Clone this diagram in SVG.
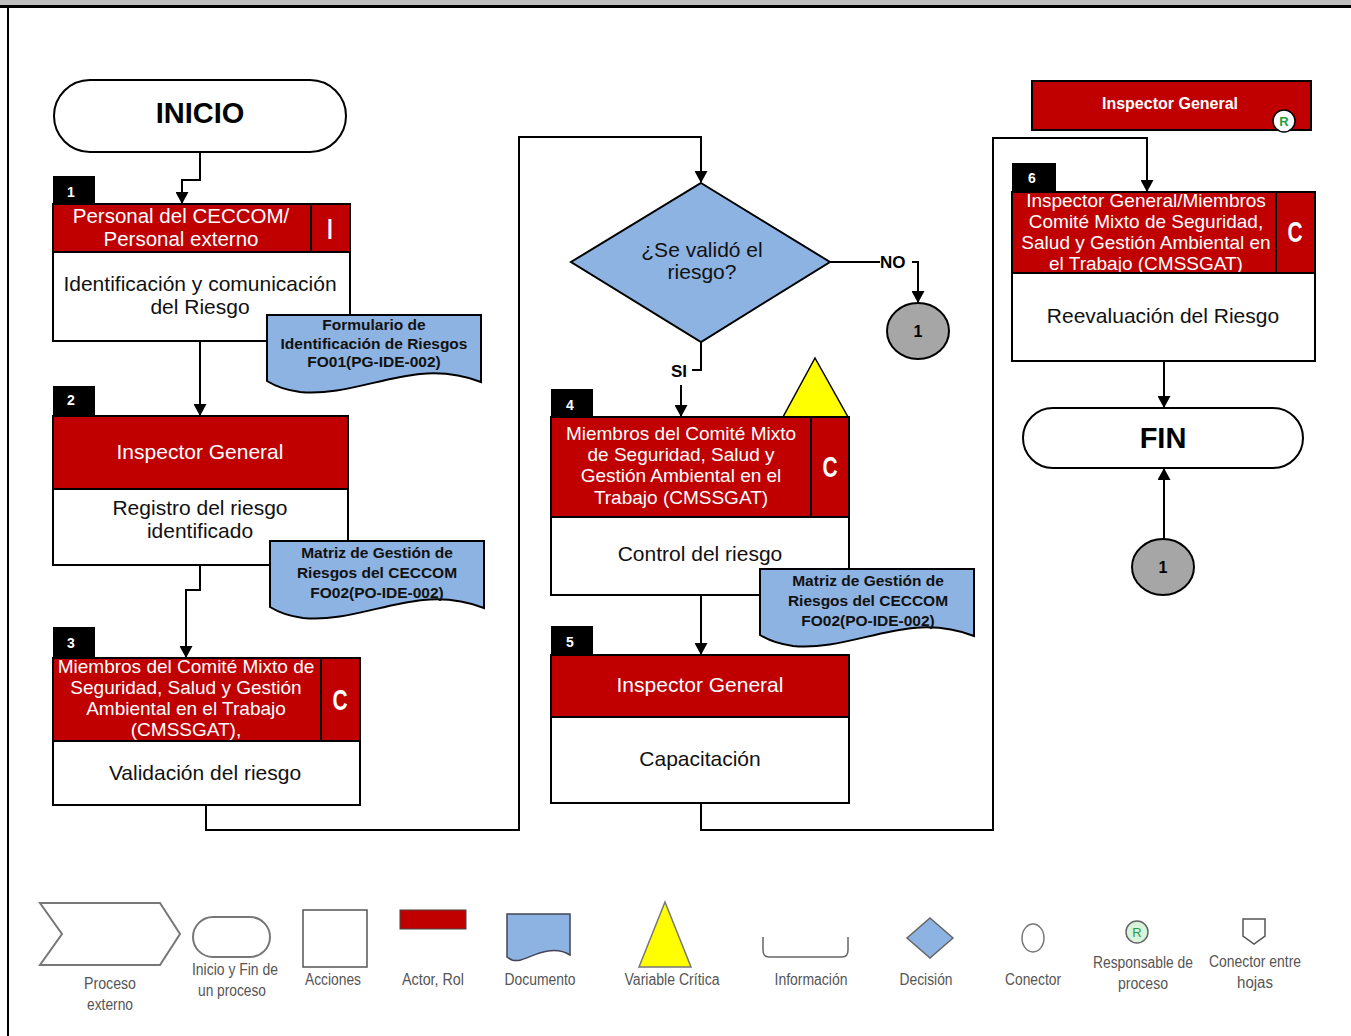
<svg xmlns="http://www.w3.org/2000/svg" width="1351" height="1036" viewBox="0 0 1351 1036">
  <defs>
    <marker id="arrow" markerWidth="13" markerHeight="13" refX="11" refY="6.5" orient="auto" markerUnits="userSpaceOnUse">
      <path d="M0,0 L12,6.5 L0,13 Z" fill="#000"/>
    </marker>
    <path id="docShape" d="M0,0 H214 V67 C193,59 173,57 153,59 C113,63 73,81 33,77 C18,75 8,71 0,66 Z"/>
  </defs>
  <style>
    .hdr { fill: #C00000; stroke: #000; stroke-width: 2; }
    .body { fill: #fff; stroke: #000; stroke-width: 2; }
    .tab { fill: #000; }
    .tabtxt { font-family: "Liberation Sans", Arial, sans-serif; font-size: 14px; font-weight: bold; fill: #fff; }
    .htxt { font-family: "Liberation Sans", Arial, sans-serif; fill: #fff; text-anchor: middle; }
    .btxt { font-family: "Liberation Sans", Arial, sans-serif; font-size: 21px; fill: #111; text-anchor: middle; }
    .doc { fill: #8DB3E2; stroke: #000; stroke-width: 2; }
    .dtxt { font-family: "Liberation Sans", Arial, sans-serif; font-size: 15.5px; font-weight: bold; fill: #111; text-anchor: middle; }
    .term { fill: #fff; stroke: #000; stroke-width: 2; }
    .ttxt { font-family: "Liberation Sans", Arial, sans-serif; font-size: 29px; font-weight: bold; fill: #000; text-anchor: middle; }
    .role { font-family: "Liberation Sans", Arial, sans-serif; font-weight: bold; fill: #fff; text-anchor: middle; }
    .conn { fill: none; stroke: #000; stroke-width: 2; }
    .lbl { font-family: "Liberation Sans", Arial, sans-serif; font-size: 17px; font-weight: bold; fill: #000; }
    .circ { fill: #A6A6A6; stroke: #000; stroke-width: 2; }
    .ctxt { font-family: "Liberation Sans", Arial, sans-serif; font-size: 16px; font-weight: bold; fill: #000; text-anchor: middle; }
    .leg { font-family: "Liberation Sans", Arial, sans-serif; font-size: 16px; fill: #555; text-anchor: middle; }
  </style>

  <rect x="0" y="0" width="1351" height="1036" fill="#fff"/>

  <!-- page frame -->
  <g id="frame">
    <rect x="0" y="0" width="1351" height="5" fill="#BFBFBF"/>
    <rect x="0" y="5" width="1351" height="3" fill="#000"/>
    <rect x="7" y="8" width="2" height="1028" fill="#000"/>
  </g>

  <!-- connectors -->
  <g id="connectors">
    <polyline class="conn" points="200,152 200,180 182,180 182,203" marker-end="url(#arrow)"/>
    <polyline class="conn" points="200,341 200,415" marker-end="url(#arrow)"/>
    <polyline class="conn" points="200,565 200,590 186,590 186,657" marker-end="url(#arrow)"/>
    <polyline class="conn" points="206,805 206,830 519,830 519,137 701,137 701,182" marker-end="url(#arrow)"/>
    <polyline class="conn" points="830,262 880,262"/>
    <polyline class="conn" points="912,262 918,262 918,302" marker-end="url(#arrow)"/>
    <polyline class="conn" points="701,342 701,370 692,370"/>
    <polyline class="conn" points="681,385 681,416" marker-end="url(#arrow)"/>
    <polyline class="conn" points="701,595 701,654" marker-end="url(#arrow)"/>
    <polyline class="conn" points="701,803 701,830 993,830 993,138 1147,138 1147,191" marker-end="url(#arrow)"/>
    <polyline class="conn" points="1164,361 1164,407" marker-end="url(#arrow)"/>
    <polyline class="conn" points="1164,539 1164,469" marker-end="url(#arrow)"/>
    <text class="lbl" x="880" y="268">NO</text>
    <text class="lbl" x="671" y="377">SI</text>
  </g>

  <!-- start -->
  <g id="inicio">
    <rect class="term" x="54" y="80" width="292" height="72" rx="36" ry="36"/>
    <text class="ttxt" font-size="30" x="200" y="123">INICIO</text>
  </g>

  <!-- step 1 -->
  <g id="step1">
    <rect class="tab" x="53" y="176" width="42" height="29"/>
    <text class="tabtxt" x="67" y="197">1</text>
    <rect class="hdr" x="53" y="204" width="297" height="48"/>
    <line x1="311" y1="204" x2="311" y2="252" stroke="#000" stroke-width="2"/>
    <text class="htxt" font-size="20.5" x="181" y="223">Personal del CECCOM/</text>
    <text class="htxt" font-size="20.5" x="181" y="246">Personal externo</text>
    <text class="htxt" font-size="30" x="330" y="239">I</text>
    <rect class="body" x="53" y="252" width="297" height="89"/>
    <text class="btxt" x="200" y="291">Identificación y comunicación</text>
    <text class="btxt" x="200" y="314">del Riesgo</text>
  </g>
  <g id="doc1">
    <use href="#docShape" class="doc" x="267" y="315"/>
    <text class="dtxt" x="374" y="330">Formulario de</text>
    <text class="dtxt" x="374" y="349">Identificación de Riesgos</text>
    <text class="dtxt" x="374" y="367">FO01(PG-IDE-002)</text>
  </g>

  <!-- step 2 -->
  <g id="step2">
    <rect class="tab" x="53" y="386" width="42" height="31"/>
    <text class="tabtxt" x="67" y="405">2</text>
    <rect class="hdr" x="53" y="416" width="295" height="73"/>
    <text class="htxt" font-size="21" x="200" y="459">Inspector General</text>
    <rect class="body" x="53" y="489" width="295" height="76"/>
    <text class="btxt" x="200" y="515">Registro del riesgo</text>
    <text class="btxt" x="200" y="538">identificado</text>
  </g>
  <g id="doc2">
    <use href="#docShape" class="doc" x="270" y="541"/>
    <text class="dtxt" x="377" y="558">Matriz de Gestión de</text>
    <text class="dtxt" x="377" y="578">Riesgos del CECCOM</text>
    <text class="dtxt" x="377" y="598">FO02(PO-IDE-002)</text>
  </g>

  <!-- step 3 -->
  <g id="step3">
    <rect class="tab" x="53" y="627" width="42" height="32"/>
    <text class="tabtxt" x="67" y="648">3</text>
    <rect class="hdr" x="53" y="658" width="307" height="83"/>
    <line x1="321" y1="658" x2="321" y2="741" stroke="#000" stroke-width="2"/>
    <text class="htxt" font-size="19" x="186" y="673">Miembros del Comité Mixto de</text>
    <text class="htxt" font-size="19" x="186" y="694">Seguridad, Salud y Gestión</text>
    <text class="htxt" font-size="19" x="186" y="715">Ambiental en el Trabajo</text>
    <text class="htxt" font-size="19" x="186" y="736">(CMSSGAT),</text>
    <text class="role" font-size="29" transform="translate(340,710) scale(0.72,1)">C</text>
    <rect class="body" x="53" y="741" width="307" height="64"/>
    <text class="btxt" x="205" y="780">Validación del riesgo</text>
  </g>

  <!-- decision -->
  <g id="decision">
    <polygon points="701,183 830,262 701,342 571,262" fill="#8DB3E2" stroke="#000" stroke-width="2"/>
    <text class="btxt" font-size="20" x="702" y="257">¿Se validó el</text>
    <text class="btxt" font-size="20" x="702" y="279">riesgo?</text>
  </g>

  <!-- off-page connector (NO branch) -->
  <g id="conn1a">
    <ellipse class="circ" cx="918" cy="331" rx="31" ry="28"/>
    <text class="ctxt" x="918" y="337">1</text>
  </g>

  <!-- step 4 -->
  <g id="step4">
    <polygon points="815,358 848,417 783,417" fill="#FFFF00" stroke="#000" stroke-width="1.5"/>
    <rect class="tab" x="551" y="389" width="42" height="29"/>
    <text class="tabtxt" x="566" y="410">4</text>
    <rect class="hdr" x="551" y="417" width="298" height="100"/>
    <line x1="811" y1="417" x2="811" y2="517" stroke="#000" stroke-width="2"/>
    <text class="htxt" font-size="19" x="681" y="440">Miembros del Comité Mixto</text>
    <text class="htxt" font-size="19" x="681" y="461">de Seguridad, Salud y</text>
    <text class="htxt" font-size="19" x="681" y="482">Gestión Ambiental en el</text>
    <text class="htxt" font-size="19" x="681" y="504">Trabajo (CMSSGAT)</text>
    <text class="role" font-size="29" transform="translate(830,477) scale(0.72,1)">C</text>
    <rect class="body" x="551" y="517" width="298" height="78"/>
    <text class="btxt" x="700" y="561">Control del riesgo</text>
  </g>
  <g id="doc3">
    <use href="#docShape" class="doc" x="760" y="569"/>
    <text class="dtxt" x="868" y="586">Matriz de Gestión de</text>
    <text class="dtxt" x="868" y="606">Riesgos del CECCOM</text>
    <text class="dtxt" x="868" y="626">FO02(PO-IDE-002)</text>
  </g>

  <!-- step 5 -->
  <g id="step5">
    <rect class="tab" x="551" y="626" width="42" height="30"/>
    <text class="tabtxt" x="566" y="647">5</text>
    <rect class="hdr" x="551" y="655" width="298" height="62"/>
    <text class="htxt" font-size="21" x="700" y="692">Inspector General</text>
    <rect class="body" x="551" y="717" width="298" height="86"/>
    <text class="btxt" x="700" y="766">Capacitación</text>
  </g>

  <!-- process owner -->
  <g id="owner">
    <rect class="hdr" x="1032" y="81" width="279" height="49"/>
    <text class="role" font-size="16" x="1170" y="109">Inspector General</text>
    <circle cx="1284" cy="121" r="11" fill="#fff" stroke="#000" stroke-width="1.5"/>
    <text x="1284" y="126" font-family="Liberation Sans, Arial, sans-serif" font-size="13" font-weight="bold" fill="#1E9E3A" text-anchor="middle">R</text>
  </g>

  <!-- step 6 -->
  <g id="step6">
    <rect class="tab" x="1012" y="163" width="44" height="30"/>
    <text class="tabtxt" x="1028" y="183">6</text>
    <rect class="hdr" x="1012" y="192" width="303" height="81"/>
    <line x1="1276" y1="192" x2="1276" y2="273" stroke="#000" stroke-width="2"/>
    <text class="htxt" font-size="19" x="1146" y="207">Inspector General/Miembros</text>
    <text class="htxt" font-size="19" x="1146" y="228">Comité Mixto de Seguridad,</text>
    <text class="htxt" font-size="19" x="1146" y="249">Salud y Gestión Ambiental en</text>
    <text class="htxt" font-size="19" x="1146" y="270">el Trabajo (CMSSGAT)</text>
    <text class="role" font-size="29" transform="translate(1295,242) scale(0.72,1)">C</text>
    <rect class="body" x="1012" y="273" width="303" height="88"/>
    <text class="btxt" x="1163" y="323">Reevaluación del Riesgo</text>
  </g>

  <!-- end -->
  <g id="fin">
    <rect class="term" x="1023" y="408" width="280" height="60" rx="30" ry="30"/>
    <text class="ttxt" x="1163" y="448">FIN</text>
  </g>

  <g id="conn1b">
    <ellipse class="circ" cx="1163" cy="567" rx="31" ry="28"/>
    <text class="ctxt" x="1163" y="573">1</text>
  </g>

  <!-- legend -->
  <g id="legend">
    <polygon points="40,903 160,903 180,934 160,965 40,965 62,934" fill="#fff" stroke="#777" stroke-width="2"/>
    <text class="leg" x="110" y="989" textLength="52" lengthAdjust="spacingAndGlyphs">Proceso</text>
    <text class="leg" x="110" y="1010" textLength="46" lengthAdjust="spacingAndGlyphs">externo</text>

    <rect x="193" y="917" width="77" height="40" rx="20" ry="20" fill="#fff" stroke="#777" stroke-width="2"/>
    <text class="leg" x="235" y="975" textLength="86" lengthAdjust="spacingAndGlyphs">Inicio y Fin de</text>
    <text class="leg" x="232" y="996" textLength="68" lengthAdjust="spacingAndGlyphs">un proceso</text>

    <rect x="303" y="910" width="64" height="57" fill="#fff" stroke="#555" stroke-width="1.5"/>
    <text class="leg" x="333" y="985" textLength="56" lengthAdjust="spacingAndGlyphs">Acciones</text>

    <rect x="400" y="910" width="66" height="19" fill="#C00000" stroke="#444" stroke-width="1"/>
    <text class="leg" x="433" y="985" textLength="62" lengthAdjust="spacingAndGlyphs">Actor, Rol</text>

    <path d="M507,914 H570 V955 C562,950 555,950 548,951 C533,953 522,963 512,960 C510,959 508,958 507,957 Z" fill="#8DB3E2" stroke="#445" stroke-width="1.5"/>
    <text class="leg" x="540" y="985" textLength="71" lengthAdjust="spacingAndGlyphs">Documento</text>

    <polygon points="665,902 691,967 639,967" fill="#FFFF00" stroke="#777" stroke-width="1.5"/>
    <text class="leg" x="672" y="985" textLength="95" lengthAdjust="spacingAndGlyphs">Variable Crítica</text>

    <path d="M763,937 V950 C763,954 765,957 769,957 H842 C846,957 848,954 848,950 V937" fill="none" stroke="#666" stroke-width="1.5"/>
    <text class="leg" x="811" y="985" textLength="73" lengthAdjust="spacingAndGlyphs">Información</text>

    <polygon points="930,918 953,938 930,958 907,938" fill="#8DB3E2" stroke="#666" stroke-width="1.5"/>
    <text class="leg" x="926" y="985" textLength="53" lengthAdjust="spacingAndGlyphs">Decisión</text>

    <ellipse cx="1033" cy="938" rx="11" ry="14" fill="#fff" stroke="#777" stroke-width="1.5"/>
    <text class="leg" x="1033" y="985" textLength="56" lengthAdjust="spacingAndGlyphs">Conector</text>

    <circle cx="1137" cy="932" r="11" fill="#D8F5DC" stroke="#666" stroke-width="1.5"/>
    <text x="1137" y="937" font-family="Liberation Sans, Arial, sans-serif" font-size="13" fill="#2A9A40" text-anchor="middle">R</text>
    <text class="leg" x="1143" y="968" textLength="100" lengthAdjust="spacingAndGlyphs">Responsable de</text>
    <text class="leg" x="1143" y="989" textLength="50" lengthAdjust="spacingAndGlyphs">proceso</text>

    <path d="M1243,919 H1265 V936 L1254,944 L1243,936 Z" fill="#fff" stroke="#555" stroke-width="1.5"/>
    <text class="leg" x="1255" y="967" textLength="92" lengthAdjust="spacingAndGlyphs">Conector entre</text>
    <text class="leg" x="1255" y="988" textLength="36" lengthAdjust="spacingAndGlyphs">hojas</text>
  </g>
</svg>
